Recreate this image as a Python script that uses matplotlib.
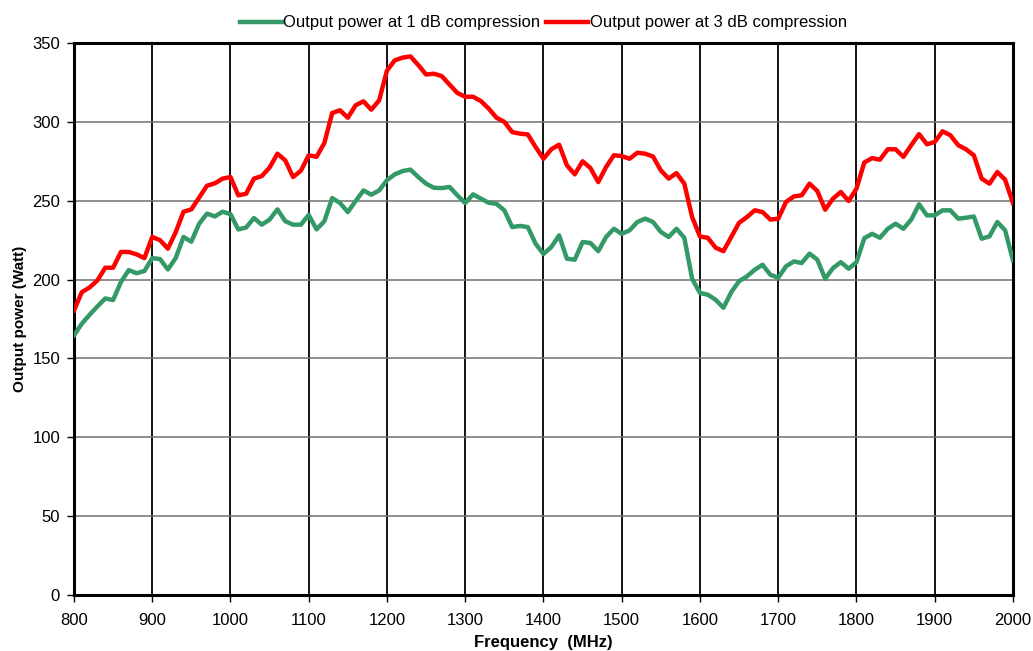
import matplotlib.pyplot as plt
import numpy as np

plt.rcParams["font.family"] = ["Liberation Sans", "DejaVu Sans"]

freq_mhz = np.arange(800, 2001, 10)

p1db_watt = [
    164.6, 172, 177.7, 183, 188, 187, 198.4, 206, 204, 205.4,
    213.6, 213, 206.4, 213.6, 227, 224, 235.4, 241.8, 240, 243,
    241.5, 231.8, 233, 239, 234.8, 238, 244.5, 237, 234.8, 234.8,
    241, 231.8, 237, 251.7, 248.5, 242.8, 249.8, 256.5, 253.8, 256.5,
    263, 266.7, 268.8, 269.7, 265, 260.8, 258.2, 258, 258.7, 253.4,
    248.5, 254, 251.3, 248.7, 248, 243.9, 233.3, 234, 233.3, 222.7,
    216.2, 220.6, 228, 213.2, 212.6, 223.8, 223.2, 218, 227, 232.2,
    229, 231.2, 236.5, 238.6, 236.5, 230.2, 227, 232.2, 226.5, 200.5,
    191.5, 190.4, 187.2, 182.1, 192, 199, 202, 206.2, 209.4, 203,
    201.2, 208.4, 211.5, 210.5, 216.4, 212.6, 200.5, 207.3, 211, 206.9,
    211, 226.2, 229, 226.5, 232.2, 235.4, 232.2, 238, 247.7, 240.7,
    240.7, 243.9, 243.9, 238.6, 239.2, 240, 225.9, 227.4, 236.5, 231.2,
    212.2,
]

p3db_watt = [
    180.4, 192, 195, 199.5, 207.5, 207.5, 217.5, 217.5, 216, 213.6,
    227, 225, 219.6, 230, 243, 244.5, 252, 259.5, 261, 264,
    265, 253.4, 254.4, 264, 265.6, 271, 279.8, 275.6, 265, 269,
    278.8, 277.8, 286.6, 305.6, 307.3, 302.6, 310.5, 313, 307.7, 313.6,
    332.5, 339, 340.7, 341.5, 336, 330, 330.5, 329, 323.6, 318.3,
    315.9, 315.9, 313.2, 308.4, 302.6, 300, 293.5, 292.5, 292, 284,
    276.6, 282.6, 285.5, 272.4, 266.7, 275, 270.7, 261.8, 271.3, 278.8,
    278.3, 276.6, 280.4, 279.8, 278, 269.2, 264, 267.5, 260.8, 239.6,
    227.3, 226.5, 220.2, 218, 227, 236, 239.6, 243.9, 242.8, 238,
    238.6, 249.2, 252.7, 253.4, 260.8, 256.1, 244.3, 251.3, 255.5, 249.8,
    257.6, 274.2, 277, 276, 282.6, 282.6, 277.8, 285.2, 292.2, 285.8,
    287.2, 294, 291.5, 285.2, 282.6, 278.8, 264, 260.8, 268.2, 263.3,
    248.5,
]

fig = plt.figure(figsize=(10.33, 6.51), dpi=100)
ax = fig.add_axes([0.0716, 0.086, 0.909, 0.848])

ax.plot(freq_mhz, p1db_watt, color="#339966", lw=3.2,
        label="Output power at 1 dB compression", zorder=3)
ax.plot(freq_mhz, p3db_watt, color="#ff0000", lw=3.2,
        label="Output power at 3 dB compression", zorder=3)

ax.set_xlim(800, 2000)
ax.set_ylim(0, 350)
ax.set_xticks(np.arange(800, 2001, 100))
ax.set_yticks(np.arange(0, 351, 50))

ax.xaxis.grid(True, color="black", lw=1.3)
ax.yaxis.grid(True, color="#707070", lw=1.1)
ax.set_axisbelow(True)

for side in ["left", "bottom", "top", "right"]:
    ax.spines[side].set_linewidth(2.2)
    ax.spines[side].set_color("black")

ax.tick_params(direction="out", length=5, width=1, labelsize=12)
ax.tick_params(axis="x", pad=8)
ax.tick_params(axis="y", pad=5)

ax.set_xlabel("Frequency  (MHz)", fontsize=12, fontweight="bold", labelpad=5)
ax.set_ylabel("Output power (Watt)", fontsize=11, fontweight="bold", labelpad=4)

ax.legend(loc="lower center", bbox_to_anchor=(0.5, 1.0), ncol=2, frameon=False,
          fontsize=12, handlelength=2.5, handletextpad=0.1, columnspacing=0.35,
          borderaxespad=0.35)

fig.savefig("out.png", dpi=100)
